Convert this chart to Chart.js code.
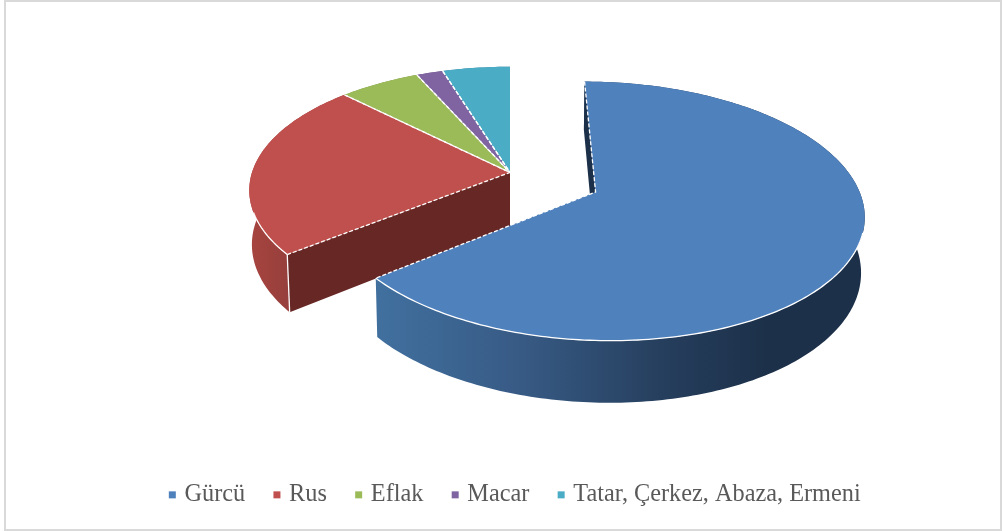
<!DOCTYPE html>
<html>
<head>
<meta charset="utf-8">
<title>Pie</title>
<script src="https://cdn.jsdelivr.net/npm/chart.js@4/dist/chart.umd.min.js"></script>
<style>
  html, body { margin: 0; padding: 0; background: #fff; overflow: hidden; }
  #frame { position: absolute; left: 4px; top: 0; right: 1px; bottom: 0; border: 2px solid #d9d9d9; }
  #chartPie { position: absolute; left: 0; top: 0; }
</style>
</head>
<body>
<div id="frame"></div>
<canvas id="chartPie" width="1003" height="531"></canvas>
<script>
const labels = ['Gürcü', 'Rus', 'Eflak', 'Macar', 'Tatar, Çerkez, Abaza, Ermeni'];
const values = [64.4, 23.1, 5.8, 1.9, 4.8];
const colors = ['#4f81bd', '#c0504d', '#9bbb59', '#8064a2', '#4bacc6'];

// look of the tilted pie
const shiftX = -6.5;
const shiftY = -53;
const tiltY = 0.469;
const perspective = 0.00056;
const depthY = 54;
const depthShrink = 0.01;

const faceColors = ['#1c3049', '#672725', '#5d7035', '#4c3c61', '#2d6776'];
const wallStops = [
  [[0, '#41709f'], [0.3, '#375a84'], [0.58, '#263f5e'], [0.8, '#1c3049'], [1, '#1c3049']],
  [[0, '#a8443f'], [0.4, '#963f3c'], [1, '#963f3c']],
  [[0, '#7c9647'], [1, '#7c9647']],
  [[0, '#665082'], [1, '#665082']],
  [[0, '#3c899e'], [1, '#3c899e']]
];

function project(arc, x, y, z) {
  const w = 1 - y * perspective + z * depthShrink;
  return [
    arc.x + shiftX + x / w,
    arc.y + shiftY + (y * tiltY + z * depthY) / w
  ];
}

function rimPoints(arc, z) {
  // walk along the rim of one slice, one degree at a time
  const mid = (arc.startAngle + arc.endAngle) / 2;
  const ox = Math.cos(mid) * arc.options.offset;
  const oy = Math.sin(mid) * arc.options.offset;
  const pts = [];
  const steps = Math.max(2, Math.ceil((arc.endAngle - arc.startAngle) * 180 / Math.PI));
  for (let i = 0; i <= steps; i++) {
    const a = arc.startAngle + (arc.endAngle - arc.startAngle) * i / steps;
    pts.push({
      a: a,
      p: project(arc, ox + Math.cos(a) * arc.outerRadius, oy + Math.sin(a) * arc.outerRadius, z)
    });
  }
  return { apex: project(arc, ox, oy, z), rim: pts };
}

function polygon(ctx, pts) {
  ctx.beginPath();
  pts.forEach((p, i) => (i ? ctx.lineTo(p[0], p[1]) : ctx.moveTo(p[0], p[1])));
  ctx.closePath();
}

function drawWalls(ctx, arc, i) {
  const top = rimPoints(arc, 0);
  const bottom = rimPoints(arc, 1);
  const outer = top.rim.map(r => r.p).concat(bottom.rim.map(r => r.p).reverse());
  const xs = outer.map(p => p[0]);
  const grad = ctx.createLinearGradient(Math.min(...xs), 0, Math.max(...xs), 0);
  wallStops[i].forEach(s => grad.addColorStop(s[0], s[1]));
  polygon(ctx, outer);
  ctx.fillStyle = grad;
  ctx.fill();

  // flat face on the start side of the slice
  polygon(ctx, [top.apex, top.rim[0].p, bottom.rim[0].p, bottom.apex]);
  ctx.fillStyle = faceColors[i];
  ctx.fill();
}

function drawTop(ctx, arc, i) {
  const top = rimPoints(arc, 0);
  polygon(ctx, [top.apex].concat(top.rim.map(r => r.p)));
  ctx.fillStyle = colors[i];
  ctx.fill();
}

function drawEdges(ctx, arc, i) {
  const top = rimPoints(arc, 0);
  const bottom = rimPoints(arc, 1);
  ctx.strokeStyle = '#fff';
  ctx.lineWidth = 1.3;

  ctx.setLineDash([4, 2]);
  ctx.beginPath();
  ctx.moveTo(top.rim[0].p[0], top.rim[0].p[1]);
  ctx.lineTo(top.apex[0], top.apex[1]);
  // the last slice ends against the empty gap, no seam there
  if (i < labels.length - 1) {
    ctx.lineTo(top.rim[top.rim.length - 1].p[0], top.rim[top.rim.length - 1].p[1]);
  }
  ctx.stroke();
  ctx.setLineDash([]);

  // rim only where a wall shows below it
  ctx.beginPath();
  let pen = false;
  top.rim.forEach(r => {
    if (Math.sin(r.a) > 0.3) {
      if (pen) ctx.lineTo(r.p[0], r.p[1]);
      else ctx.moveTo(r.p[0], r.p[1]);
      pen = true;
    }
  });
  ctx.stroke();

  // corner of the wall, only the slice next to the gap
  if (i === 1) {
    ctx.beginPath();
    ctx.moveTo(top.rim[0].p[0], top.rim[0].p[1]);
    ctx.lineTo(bottom.rim[0].p[0], bottom.rim[0].p[1]);
    ctx.stroke();
  }
}

const tiltedPie = {
  id: 'tiltedPie',
  beforeDatasetsDraw(chart) {
    const ctx = chart.ctx;
    const arcs = chart.getDatasetMeta(0).data;
    const rest = arcs.map((a, i) => i).filter(i => !arcs[i].options.offset);
    const exploded = arcs.map((a, i) => i).filter(i => arcs[i].options.offset);
    ctx.save();
    [rest, exploded].forEach(group => {
      // last slice first, so the big faces end up on top of the small ones
      group.slice().reverse().forEach(i => drawWalls(ctx, arcs[i], i));
      group.forEach(i => drawTop(ctx, arcs[i], i));
      group.forEach(i => drawEdges(ctx, arcs[i], i));
    });
    ctx.restore();
    return false;
  }
};

new Chart(document.getElementById('chartPie').getContext('2d'), {
  type: 'pie',
  data: {
    labels: labels,
    datasets: [{
      data: values,
      backgroundColor: colors,
      borderWidth: 0,
      offset: [93, 0, 0, 0, 0],
      radius: 258
    }]
  },
  options: {
    responsive: false,
    animation: false,
    events: [],
    layout: { padding: { left: 30, bottom: 14 } },
    plugins: {
      tooltip: { enabled: false },
      legend: {
        position: 'bottom',
        labels: {
          usePointStyle: true,
          pointStyle: 'rect',
          boxWidth: 0.01,
          boxHeight: 7,
          padding: 31.75,
          color: '#595959',
          font: { family: '"Liberation Serif"', size: 24.3 }
        }
      }
    }
  },
  plugins: [tiltedPie]
});
</script>
</body>
</html>
